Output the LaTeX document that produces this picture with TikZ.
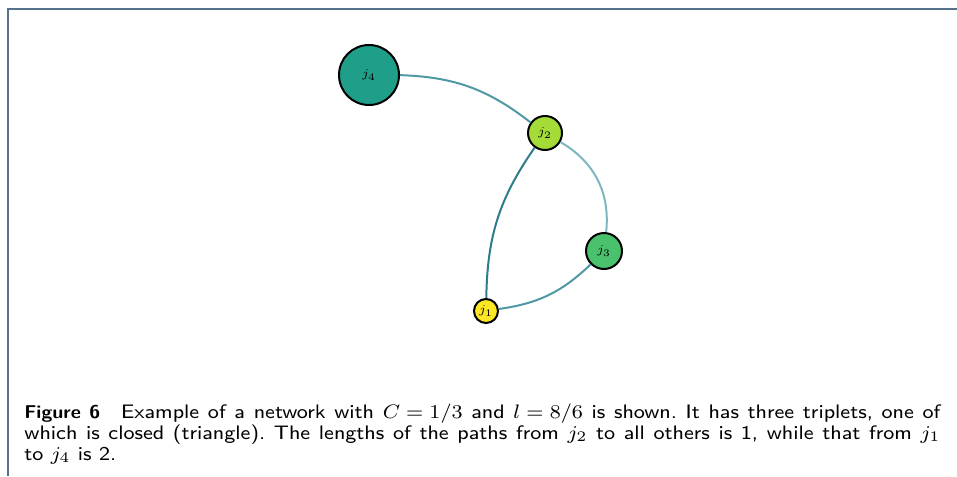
\documentclass[tikz,border=0pt]{standalone}
\begin{document}
\definecolor{vteal}{HTML}{1F9E89}
\definecolor{vlime}{HTML}{A5DB36}
\definecolor{vgreen}{HTML}{4AC16D}
\definecolor{vyellow}{HTML}{FDE725}
\definecolor{framecol}{HTML}{56718C}
\definecolor{edgemid}{HTML}{4F98A4}
\definecolor{edgedark}{HTML}{2E7C8B}
\definecolor{edgelight}{HTML}{7FB7C1}
\tikzset{vert/.style={circle,draw=black,line width=1pt,inner sep=0pt,font=\fontsize{6}{6}\selectfont},
  link/.style={line width=1pt}}
\begin{tikzpicture}[x=0.5pt,y=-0.5pt]
\useasboundingbox (0,0) rectangle (957,476);
\draw[framecol,line width=1.2pt] (8,476)--(8,9)--(957,9);
\node[vert,fill=vteal,minimum size=30pt] (j4) at (369,75) {$j_4$};
\node[vert,fill=vlime,minimum size=17pt] (j2) at (545,133) {$j_2$};
\node[vert,fill=vgreen,minimum size=18pt] (j3) at (604,251) {$j_3$};
\node[vert,fill=vyellow,minimum size=12pt] (j1) at (486,311) {$j_1$};
\draw[link,edgemid] (j4) to[bend left=18] (j2);
\draw[link,edgelight] (j2) to[bend left=33] (j3);
\draw[link,edgedark] (j2) to[bend right=17] (j1);
\draw[link,edgemid] (j3) to[bend left=18] (j1);
% caption
\node[anchor=north west,inner sep=0pt] (cap) at (24,403)
 {\scalebox{1.3}[1.22]{\parbox{352.3pt}{\sffamily\fontsize{8}{8.6}\selectfont\frenchspacing
 \textbf{\fontsize{7.6}{8}\selectfont Figure 6}\quad Example of a network with ${C=1/3}$ and ${l=8/6}$ is shown. It has three triplets, one of\linebreak
 which is closed (triangle). The lengths of the paths from $j_2$ to all others is 1, while that from $j_1$\linebreak
 to $j_4$ is 2.}}};
\end{tikzpicture}
\end{document}
